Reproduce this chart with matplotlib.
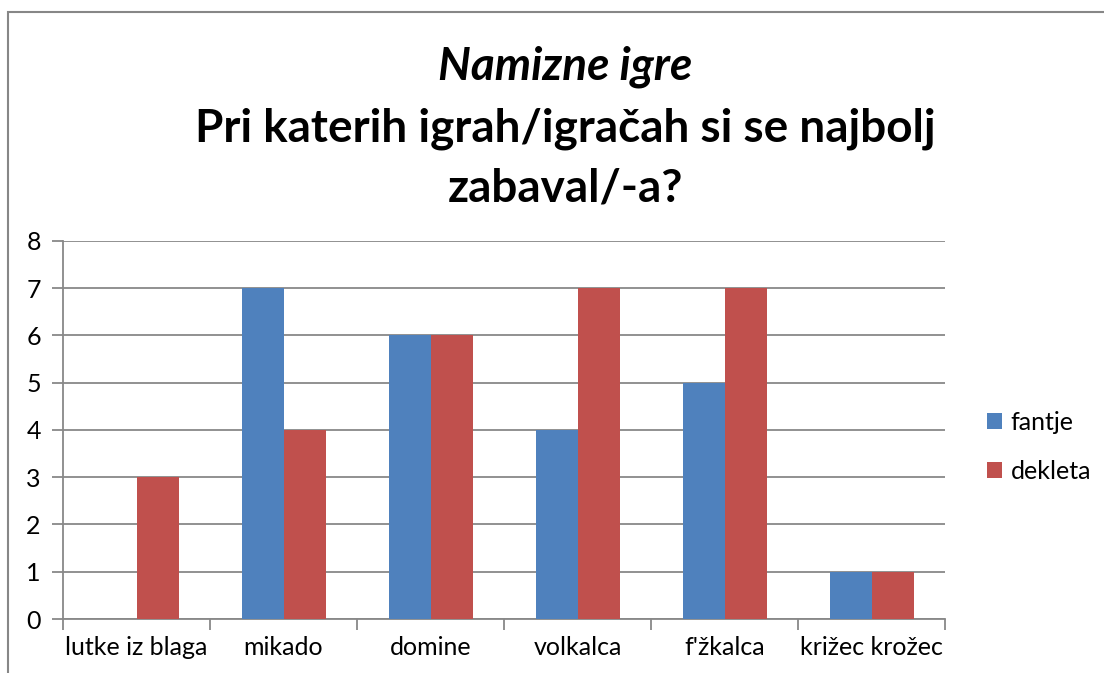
import matplotlib.pyplot as plt
import matplotlib.patches as mpatches
import numpy as np

plt.rcParams['font.family'] = ['Lato', 'DejaVu Sans']

categories = ["lutke iz blaga", "mikado", "domine", "volkalca", "f'žkalca", "križec krožec"]
fantje = [0, 7, 6, 4, 5, 1]
dekleta = [3, 4, 6, 7, 7, 1]

blue = "#4F81BD"
red = "#C0504D"
grid = "#888888"

fig = plt.figure(figsize=(11.04, 6.73), dpi=100)
ax = fig.add_axes([0.0571, 0.0802, 0.799, 0.562])

x = np.arange(len(categories))
w = 0.2857
ax.bar(x - w / 2, fantje, w, color=blue, label='fantje', zorder=3)
ax.bar(x + w / 2, dekleta, w, color=red, label='dekleta', zorder=3)

ax.set_xlim(-0.5, len(categories) - 0.5)
ax.set_ylim(0, 8)
ax.set_yticks(range(0, 9))
ax.yaxis.grid(True, color=grid, linewidth=1.3, zorder=0)
ax.set_axisbelow(True)

ax.set_xticks(np.arange(-0.5, len(categories), 1))
ax.set_xticklabels([])
ax.set_xticks(x, minor=True)
ax.set_xticklabels(categories, minor=True, fontsize=18)
ax.tick_params(axis='x', which='minor', length=0, pad=12)
ax.tick_params(axis='x', which='major', length=8, direction='out', color=grid, width=1.3)
ax.tick_params(axis='y', length=8, direction='out', color=grid, width=1.3, labelsize=18, pad=8)

for s in ['top', 'right']:
    ax.spines[s].set_visible(False)
for s in ['left', 'bottom']:
    ax.spines[s].set_color(grid)
    ax.spines[s].set_linewidth(1.3)

ax.legend(loc='center left', bbox_to_anchor=(1.022, 0.455), frameon=False, fontsize=18,
          handlelength=0.6, handleheight=0.6, handletextpad=0.35, labelspacing=1.05)

fig.text(0.512, 1 - 80 / 673, "Namizne igre", ha='center', va='baseline', fontsize=33,
         fontweight='bold', fontstyle='italic')
fig.text(0.512, 1 - 142 / 673, "Pri katerih igrah/igračah si se najbolj", ha='center', va='baseline',
         fontsize=33, fontweight='bold')
fig.text(0.512, 1 - 201 / 673, "zabaval/-a?", ha='center', va='baseline', fontsize=33, fontweight='bold')

# outer chart frame (only top and left edges are visible in the crop)
frame = mpatches.Rectangle((8 / 1104, -0.1), 1.2, 1 - 12 / 673 + 0.1, transform=fig.transFigure,
                           fill=False, edgecolor="#878787", linewidth=1.5)
fig.patches.append(frame)

fig.savefig("out.png", dpi=100)
